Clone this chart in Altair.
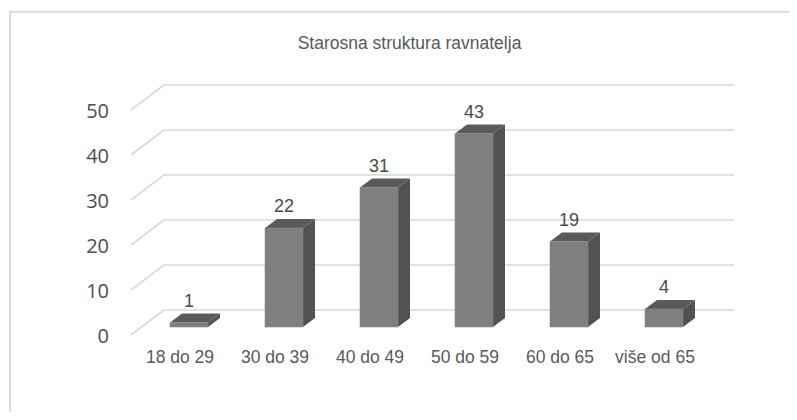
import altair as alt
import pandas as pd

# ---------------- data ----------------
categories = ["18 do 29", "30 do 39", "40 do 49", "50 do 59", "60 do 65", "više od 65"]
values = [1, 22, 31, 43, 19, 4]
y_ticks = [0, 10, 20, 30, 40, 50]
title_text = "Starosna struktura ravnatelja"

# ---------------- 3D geometry (scale units) ----------------
PX_PER_UNIT_Y = 4.5
PX_PER_UNIT_X = 95.0
HALF = 19 / PX_PER_UNIT_X          # half width of bar front face
DX = 12 / PX_PER_UNIT_X            # bar depth, horizontal
DY = 9 / PX_PER_UNIT_Y             # bar depth, vertical
FLOOR_BACK = 17 / PX_PER_UNIT_Y    # back wall offset above bar base
FLOOR_FRONT = -8 / PX_PER_UNIT_Y   # front floor edge offset below bar base
WALL_X0 = -25 / PX_PER_UNIT_X
WALL_X1 = 545 / PX_PER_UNIT_X
FRONT_X = -58 / PX_PER_UNIT_X

xs = alt.Scale(domain=[0, 5], range=[181, 656], nice=False, zero=False)
ys = alt.Scale(domain=[0, 50], range=[319, 94], nice=False, zero=False)

# gridlines
grid_rows = []
for t in y_ticks:
    grid_rows.append({"x": WALL_X0, "x2": WALL_X1, "y": t + FLOOR_BACK, "y2": t + FLOOR_BACK})
    grid_rows.append({"x": FRONT_X, "x2": WALL_X0, "y": t + FLOOR_FRONT, "y2": t + FLOOR_BACK})
grid_df = pd.DataFrame(grid_rows)

grid = alt.Chart(grid_df).mark_rule(color="#d9d9d9", strokeWidth=1.6).encode(
    x=alt.X("x:Q", scale=xs, axis=None),
    x2="x2:Q",
    y=alt.Y("y:Q", scale=ys, axis=None),
    y2="y2:Q",
)

# bars
front_df = pd.DataFrame({
    "cat": categories,
    "x": [i - HALF for i in range(len(values))],
    "x2": [i + HALF for i in range(len(values))],
    "y": [0] * len(values),
    "y2": values,
})
front = alt.Chart(front_df).mark_rect(color="#7f7f7f", stroke="#8a8a8a", strokeWidth=0.6).encode(
    x=alt.X("x:Q", scale=xs, axis=None), x2="x2:Q",
    y=alt.Y("y:Q", scale=ys, axis=None), y2="y2:Q",
)

top_rows, side_rows = [], []
for i, v in enumerate(values):
    L, R = i - HALF, i + HALF
    top_rows += [
        {"id": i, "x": L, "y": v, "y2": v},
        {"id": i, "x": L + DX, "y": v, "y2": v + DY},
        {"id": i, "x": R, "y": v, "y2": v + DY},
        {"id": i, "x": R + DX, "y": v + DY, "y2": v + DY},
    ]
    side_rows += [
        {"id": i, "x": R, "y": 0, "y2": v},
        {"id": i, "x": R + DX, "y": DY, "y2": v + DY},
    ]
top_df = pd.DataFrame(top_rows)
side_df = pd.DataFrame(side_rows)

top = alt.Chart(top_df).mark_area(color="#5a5a5a", interpolate="linear").encode(
    x=alt.X("x:Q", scale=xs, axis=None),
    y=alt.Y("y:Q", scale=ys, axis=None), y2="y2:Q",
    detail="id:N",
)
side = alt.Chart(side_df).mark_area(color="#525252", interpolate="linear").encode(
    x=alt.X("x:Q", scale=xs, axis=None),
    y=alt.Y("y:Q", scale=ys, axis=None), y2="y2:Q",
    detail="id:N",
)

# value labels
val_df = pd.DataFrame({
    "x": list(range(len(values))),
    "y": [v + 16 / PX_PER_UNIT_Y for v in values],
    "label": [str(v) for v in values],
})
val_text = alt.Chart(val_df).mark_text(
    font="Liberation Sans", fontSize=18, color="#4a4a4a", baseline="alphabetic", align="center"
).encode(
    x=alt.X("x:Q", scale=xs, axis=None),
    y=alt.Y("y:Q", scale=ys, axis=None),
    text="label:N",
)

# category labels
cat_df = pd.DataFrame({
    "x": [i - 9 / PX_PER_UNIT_X for i in range(len(categories))],
    "y": [-31 / PX_PER_UNIT_Y] * len(categories),
    "label": categories,
})
cat_text = alt.Chart(cat_df).mark_text(
    font="Liberation Sans", fontSize=17.5, color="#595959", baseline="middle", align="center"
).encode(
    x=alt.X("x:Q", scale=xs, axis=None),
    y=alt.Y("y:Q", scale=ys, axis=None),
    text="label:N",
)

# y tick labels
ytick_df = pd.DataFrame({
    "x": [-80 / PX_PER_UNIT_X] * len(y_ticks),
    "y": [t - 10 / PX_PER_UNIT_Y for t in y_ticks],
    "label": [str(t) for t in y_ticks],
})
ytick_text = alt.Chart(ytick_df).mark_text(
    font="Open Sans", fontSize=20, color="#4d4d4d", baseline="middle", align="right"
).encode(
    x=alt.X("x:Q", scale=xs, axis=None),
    y=alt.Y("y:Q", scale=ys, axis=None),
    text="label:N",
)

# title
one = pd.DataFrame({"a": [0]})
title = alt.Chart(one).mark_text(
    text=title_text, font="Liberation Sans", fontSize=17.5, color="#595959",
    align="center", baseline="alphabetic"
).encode(x=alt.value(401.5), y=alt.value(41))

# chart border (top and left edges visible)
border_top = alt.Chart(one).mark_rule(color="#d9d9d9", strokeWidth=2).encode(
    x=alt.value(1), x2=alt.value(781), y=alt.value(3.8)
)
border_left = alt.Chart(one).mark_rule(color="#d9d9d9", strokeWidth=2).encode(
    x=alt.value(2), y=alt.value(2.8), y2=alt.value(404)
)

chart = alt.layer(
    border_top, border_left, grid, side, top, front, val_text, cat_text, ytick_text, title
).properties(
    width=781, height=404,
    autosize=alt.AutoSizeParams(type="none"),
    padding=0,
    background="white",
).configure_view(stroke=None)

chart.save("out.html", embed_options={"renderer": "svg", "actions": False})
